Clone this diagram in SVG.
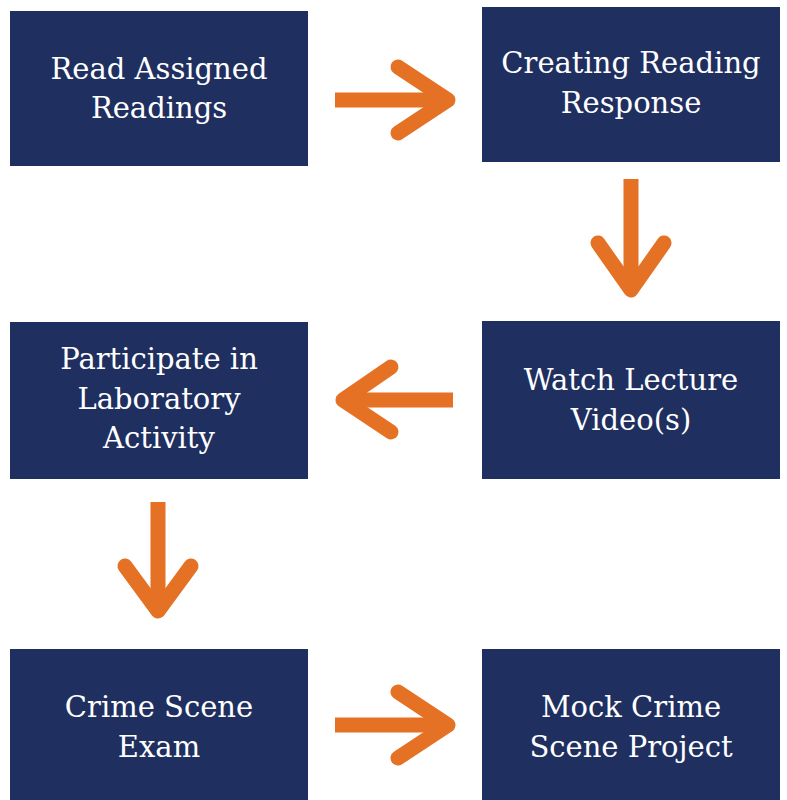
<svg xmlns="http://www.w3.org/2000/svg" width="787" height="800" viewBox="0 0 787 800">
<style>
.box{fill:#1f2f5f}
.lbl{font-family:"DejaVu Serif","Liberation Serif",serif;font-size:29px;fill:#ffffff;text-anchor:middle}
.arr{fill:none;stroke:#e57125;stroke-width:15;stroke-linejoin:round}
.head{stroke-linecap:round}
</style>
<rect width="787" height="800" fill="#ffffff"/>
<g id="n1"><rect class="box" x="10" y="11" width="298" height="155"/>
<text class="lbl" x="159" y="79">Read Assigned</text><text class="lbl" x="159" y="118">Readings</text></g>
<g id="n2"><rect class="box" x="482" y="7" width="298" height="155"/>
<text class="lbl" x="631" y="73">Creating Reading</text><text class="lbl" x="631" y="113">Response</text></g>
<g id="n3"><rect class="box" x="482" y="321" width="298" height="158"/>
<text class="lbl" x="631" y="390">Watch Lecture</text><text class="lbl" x="631" y="430">Video(s)</text></g>
<g id="n4"><rect class="box" x="10" y="322" width="298" height="157"/>
<text class="lbl" x="159" y="369">Participate in</text><text class="lbl" x="159" y="409">Laboratory</text><text class="lbl" x="159" y="448">Activity</text></g>
<g id="n5"><rect class="box" x="10" y="649" width="298" height="151"/>
<text class="lbl" x="159" y="717">Crime Scene</text><text class="lbl" x="159" y="757">Exam</text></g>
<g id="n6"><rect class="box" x="482" y="649" width="298" height="151"/>
<text class="lbl" x="631" y="717">Mock Crime</text><text class="lbl" x="631" y="757">Scene Project</text></g>
<g id="connectors">
<path class="arr" d="M335,100 H446"/><path class="arr head" d="M398,67 L448,100 L398,133"/>
<path class="arr" d="M631,179 V287"/><path class="arr head" d="M598,243 L631,290 L664,243"/>
<path class="arr" d="M453,400 H345"/><path class="arr head" d="M391,367 L343,400 L391,432"/>
<path class="arr" d="M158,502 V609"/><path class="arr head" d="M125,566 L158,611 L191,566"/>
<path class="arr" d="M335,725 H446"/><path class="arr head" d="M398,692 L448,725 L398,758"/>
</g>
</svg>
